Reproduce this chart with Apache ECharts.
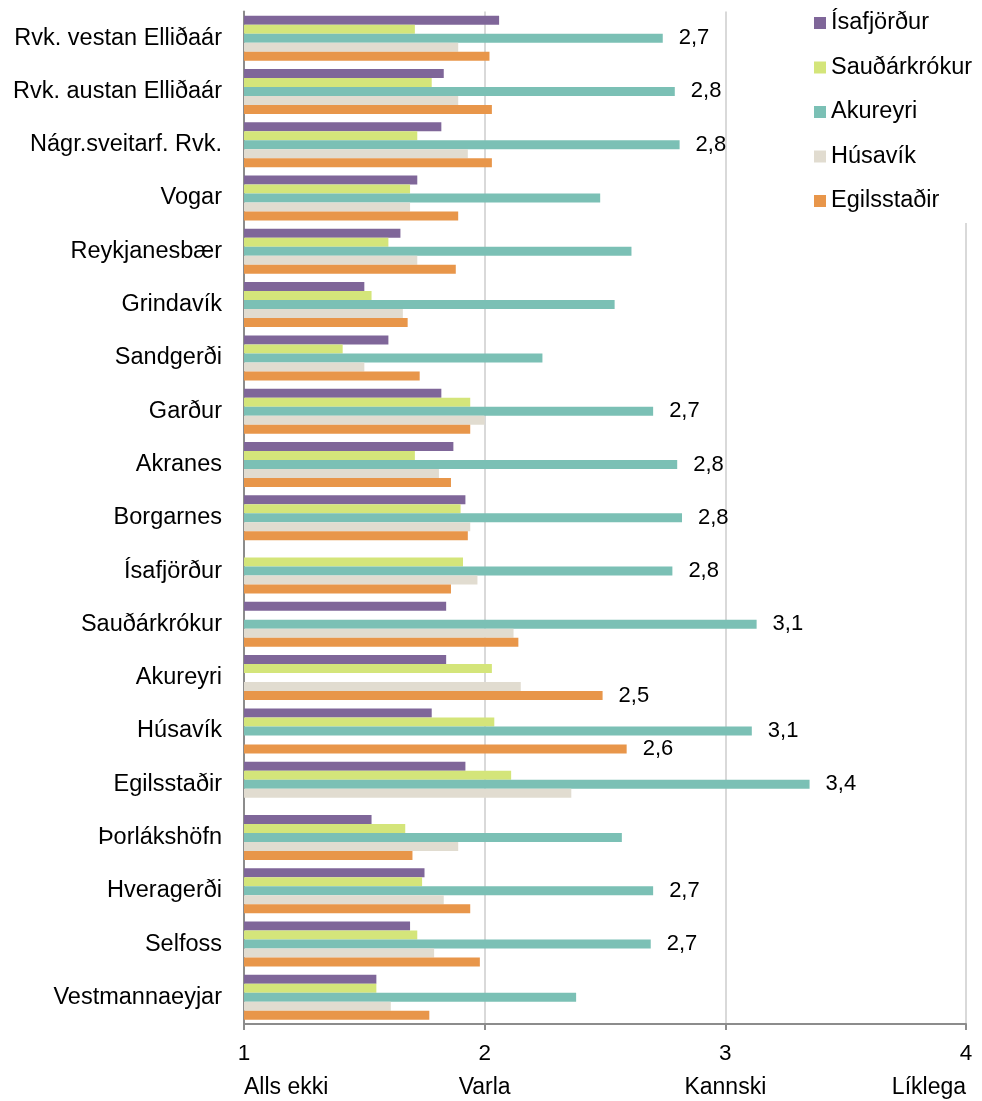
<!DOCTYPE html>
<html>
<head>
<meta charset="utf-8">
<script src="https://cdn.jsdelivr.net/npm/echarts@6/dist/echarts.min.js"></script>
<style>
html,body{margin:0;padding:0;background:#fff;}
#chart{width:982px;height:1101px;}
</style>
</head>
<body>
<div id="chart"></div>
<script>
const categories = ['Rvk. vestan Elliðaár','Rvk. austan Elliðaár','Nágr.sveitarf. Rvk.','Vogar','Reykjanesbær','Grindavík','Sandgerði','Garður','Akranes','Borgarnes','Ísafjörður','Sauðárkrókur','Akureyri','Húsavík','Egilsstaðir','Þorlákshöfn','Hveragerði','Selfoss','Vestmannaeyjar'];
const seriesNames = ['Ísafjörður','Sauðárkrókur','Akureyri','Húsavík','Egilsstaðir'];
const isafjordur   = [2.06,1.83,1.82,1.72,1.65,1.50,1.60,1.82,1.87,1.92,null,1.84,1.84,1.78,1.92,1.53,1.75,1.69,1.55];
const saudarkrokur = [1.71,1.78,1.72,1.69,1.60,1.53,1.41,1.94,1.71,1.90,1.91,null,2.03,2.04,2.11,1.67,1.74,1.72,1.55];
const akureyri     = [2.74,2.79,2.81,2.48,2.61,2.54,2.24,2.70,2.80,2.82,2.78,3.13,null,3.11,3.35,2.57,2.70,2.69,2.38];
const husavik      = [1.89,1.89,1.93,1.69,1.72,1.66,1.50,2.00,1.81,1.94,1.97,2.12,2.15,null,2.36,1.89,1.83,1.79,1.61];
const egilsstadir  = [2.02,2.03,2.03,1.89,1.88,1.68,1.73,1.94,1.86,1.93,1.86,2.14,2.49,2.59,null,1.70,1.94,1.98,1.77];
const xTickNumbers = ['1','2','3','4'];
const xTickTexts = ['Alls ekki','Varla','Kannski','Líklega'];
const labeledAkureyri = ['Rvk. vestan Elliðaár','Rvk. austan Elliðaár','Nágr.sveitarf. Rvk.','Garður','Akranes','Borgarnes','Ísafjörður','Sauðárkrókur','Húsavík','Egilsstaðir','Hveragerði','Selfoss'];
const labeledEgilsstadir = ['Akureyri','Húsavík'];

const colors = ['#7F6699','#D4E57A','#7BC0B5','#E1DCD0','#E8964A'];
const allData = [isafjordur, saudarkrokur, akureyri, husavik, egilsstadir];
const labeledSets = [[], [], labeledAkureyri, [], labeledEgilsstadir];
const FONT = 'Liberation Sans, Arial, sans-serif';

const series = allData.map((arr, si) => ({
  name: seriesNames[si],
  type: 'bar',
  barWidth: 9,
  barGap: '0%',
  itemStyle: { color: colors[si] },
  data: arr.map((v, ci) => {
    const show = labeledSets[si].indexOf(categories[ci]) >= 0;
    return {
      value: v,
      label: {
        show: show,
        position: 'right',
        distance: 16,
        fontFamily: FONT,
        fontSize: 22,
        color: '#000',
        formatter: p => p.value.toFixed(1).replace('.', ',')
      }
    };
  })
}));

const chart = echarts.init(document.getElementById('chart'), null, { renderer: 'canvas' });
chart.setOption({
  animation: false,
  backgroundColor: '#fff',
  textStyle: { fontFamily: FONT },
  legend: {
    orient: 'vertical',
    left: 808,
    top: 0,
    padding: [11, 8, 10, 6],
    itemWidth: 12,
    itemHeight: 12,
    itemGap: 20.5,
    icon: 'rect',
    backgroundColor: '#fff',
    textStyle: { fontFamily: FONT, fontSize: 23.5, color: '#000' },
    data: seriesNames
  },
  grid: { left: 244, right: 16, top: 11.5, bottom: 77, containLabel: false },
  xAxis: [
    {
      type: 'value', min: 1, max: 4, interval: 1, position: 'bottom',
      axisLine: { show: true, lineStyle: { color: '#8C8C8C', width: 2 } },
      axisTick: { show: true, length: 6, lineStyle: { color: '#8C8C8C', width: 2 } },
      splitLine: { show: true, lineStyle: { color: '#D9D9D9', width: 2 } },
      axisLabel: {
        margin: 18, fontFamily: FONT, fontSize: 22.5, color: '#000',
        formatter: v => xTickNumbers[Math.round(v) - 1]
      }
    },
    {
      type: 'value', min: 1, max: 4, interval: 1, position: 'bottom', offset: 35,
      axisLine: { show: false }, axisTick: { show: false }, splitLine: { show: false },
      axisLabel: {
        margin: 17, fontFamily: FONT, fontSize: 23, color: '#000',
        alignMinLabel: 'left', alignMaxLabel: 'right',
        formatter: v => xTickTexts[Math.round(v) - 1]
      }
    }
  ],
  yAxis: {
    type: 'category', inverse: true, data: categories,
    axisLine: { show: true, lineStyle: { color: '#8C8C8C', width: 2 } },
    axisTick: { show: false },
    axisLabel: { margin: 22, fontFamily: FONT, fontSize: 23.5, color: '#000' }
  },
  series: series
});
</script>
</body>
</html>
